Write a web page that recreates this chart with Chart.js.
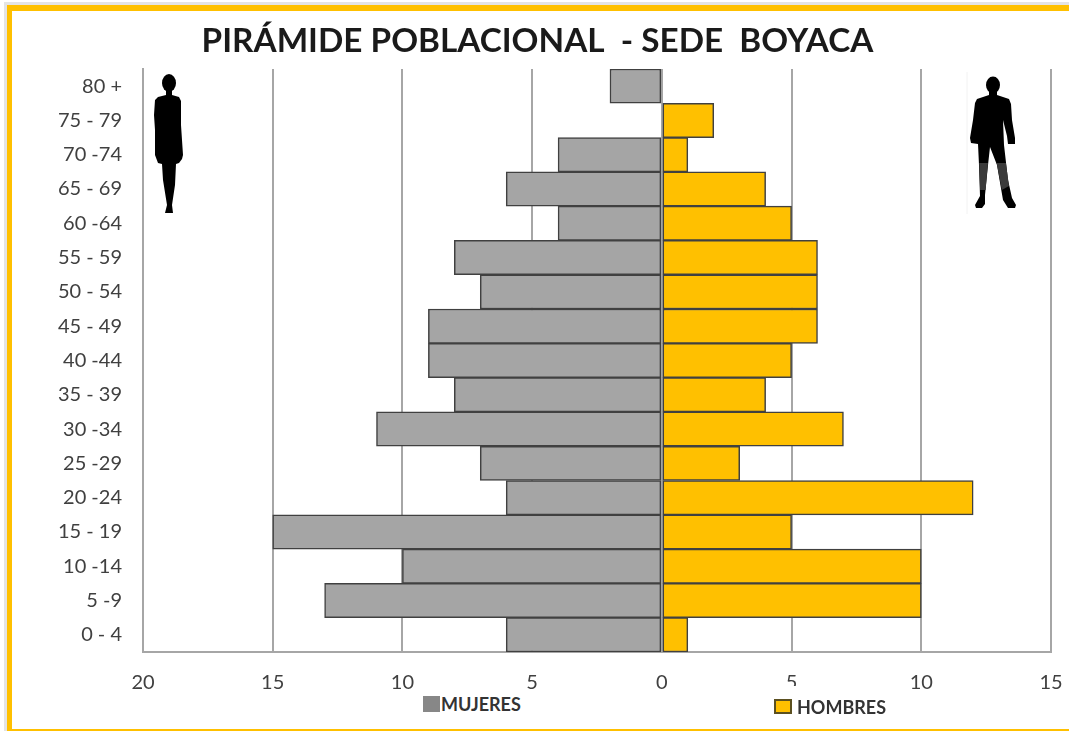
<!DOCTYPE html>
<html lang="es">
<head>
<meta charset="utf-8">
<title>Pirámide poblacional</title>
<script src="https://cdn.jsdelivr.net/npm/chart.js@4/dist/chart.umd.min.js"></script>
<style>
    html, body { margin: 0; padding: 0; background: #fff; }
    #page { position: relative; width: 1069px; height: 731px; overflow: hidden; background: #fff; font-family: Lato, sans-serif; }
    #shade { position: absolute; left: 4px; top: 2px; right: -20px; bottom: -20px; background: #e4e4e4; }
    #frame { position: absolute; left: 7px; top: 5px; right: -20px; bottom: 0; border: solid #ffc000; border-width: 6px 0 2px 5px; background: #fff; }
    #chart-box { position: absolute; left: 0; top: 0; width: 1069px; height: 731px; }
    .legend-item { position: absolute; display: flex; align-items: center; font-weight: 700; font-size: 18px; color: #333; background: #fff; }
    .legend-item i { display: block; box-sizing: border-box; }
    svg { position: absolute; }
</style>
</head>
<body>
<div id="page">
    <div id="shade"></div>
    <div id="frame"></div>
    <div id="chart-box"><canvas id="chart"></canvas></div>

    <svg style="left:150px;top:70px" width="40" height="150" viewBox="150 70 40 150">
        <ellipse cx="169" cy="83" rx="7" ry="9" fill="#000"/>
        <path fill="#000" d="M166 89L172 89L172 95L179 97L181 101L181 125L183 155L182 159L179 163L176 164L175 185L172 205L173 213L165 213L167 205L163 180L162 164L158 163L155 155L155 130L154 115L155 100L158 97L166 95Z"/>
    </svg>
    <svg style="left:965px;top:70px" width="56" height="150" viewBox="965 70 56 150">
        <line x1="967" y1="72" x2="967" y2="214" stroke="#f2f2f2" stroke-width="1"/>
        <ellipse cx="993" cy="85" rx="7" ry="8.5" fill="#000"/>
        <path fill="#000" d="M989 90L997 90L997 95L1009 99L1011 104L1012 120L1015 138L1015 144L1008 144L1007 136L1003 120L1004 145L1008 180L1012 198L1016 205L1015 208L1008 208L1003 200L997 165L990 147L988 165L985 195L985 204L982 208L976 208L975 205L980 196L979 165L978 144L971 143L970 138L973 120L975 103L977 99L989 95Z"/>
        <path fill="#3a3a3a" d="M979.2 163L987.9 163L985.6 190L980.1 190ZM996.7 163L1005.9 163L1009 186L1001.8 190Z"/>
    </svg>

    <div class="legend-item" id="legend-women" style="left:423px;top:690px;height:28px"><i style="width:17px;height:16px;margin-right:1px;background:#878787"></i><span></span></div>
    <div class="legend-item" id="legend-men" style="left:774px;top:686px;height:41px"><i style="width:18px;height:15px;margin-right:5px;background:#ffc000;border:2px solid #5b5020"></i><span></span></div>
</div>

<script>
const TITLE = 'PIRÁMIDE POBLACIONAL  - SEDE  BOYACA';
const AGE_GROUPS = ['80 +', '75 - 79', '70 -74', '65 - 69', '60 -64', '55 - 59', '50 - 54', '45 - 49', '40 -44', '35 - 39', '30 -34', '25 -29', '20 -24', '15 - 19', '10 -14', '5 -9', '0 - 4'];
const MUJERES = [-2, 0, -4, -6, -4, -8, -7, -9, -9, -8, -11, -7, -6, -15, -10, -13, -6];
const HOMBRES = [0, 2, 1, 4, 5, 6, 6, 6, 5, 4, 7, 3, 12, 5, 10, 10, 1];

const FONT_FAMILY = 'Lato, sans-serif';
const TEXT_COLOR = '#404040';
const LINE_COLOR = '#a6a6a6';
const BAR_BORDER = '#404040';

document.querySelector('#legend-women span').textContent = 'MUJERES';
document.querySelector('#legend-men span').textContent = 'HOMBRES';

new Chart(document.getElementById('chart'), {
    type: 'bar',
    data: {
        labels: AGE_GROUPS,
        datasets: [
            {
                label: 'MUJERES',
                data: MUJERES,
                backgroundColor: '#a5a5a5',
                borderColor: BAR_BORDER,
                borderWidth: 1.5,
                borderSkipped: false,
                barPercentage: 1,
                categoryPercentage: 1,
            },
            {
                label: 'HOMBRES',
                data: HOMBRES,
                backgroundColor: '#ffc000',
                borderColor: BAR_BORDER,
                borderWidth: 1.5,
                borderSkipped: false,
                barPercentage: 1,
                categoryPercentage: 1,
            },
        ],
    },
    options: {
        indexAxis: 'y',
        responsive: true,
        maintainAspectRatio: false,
        animation: false,
        layout: { padding: { left: 24, right: 18, top: 0, bottom: 0 } },
        plugins: {
            legend: { display: false },
            tooltip: { enabled: false },
            title: {
                display: true,
                text: TITLE,
                color: '#1a1a1a',
                font: { family: FONT_FAMILY, size: 33.3, weight: '700' },
                padding: { top: 21, bottom: 8 },
            },
        },
        scales: {
            x: {
                type: 'linear',
                stacked: true,
                min: -20,
                max: 15,
                grid: { color: LINE_COLOR, lineWidth: 2, drawTicks: false },
                border: { display: true, color: LINE_COLOR, width: 2 },
                ticks: {
                    stepSize: 5,
                    maxRotation: 0,
                    padding: 19,
                    color: TEXT_COLOR,
                    font: { family: FONT_FAMILY, size: 20 },
                    callback: (value) => Math.abs(value),
                },
                afterFit: (scale) => {
                    scale.height = 79;
                    scale.paddingLeft = 0;
                    scale.paddingRight = 0;
                },
            },
            y: {
                stacked: true,
                grid: { display: false },
                border: { display: true, color: LINE_COLOR, width: 2 },
                ticks: {
                    autoSkip: false,
                    padding: 13,
                    color: TEXT_COLOR,
                    font: { family: FONT_FAMILY, size: 20 },
                },
                afterFit: (scale) => { scale.width = 119; },
            },
        },
    },
});
</script>
</body>
</html>
